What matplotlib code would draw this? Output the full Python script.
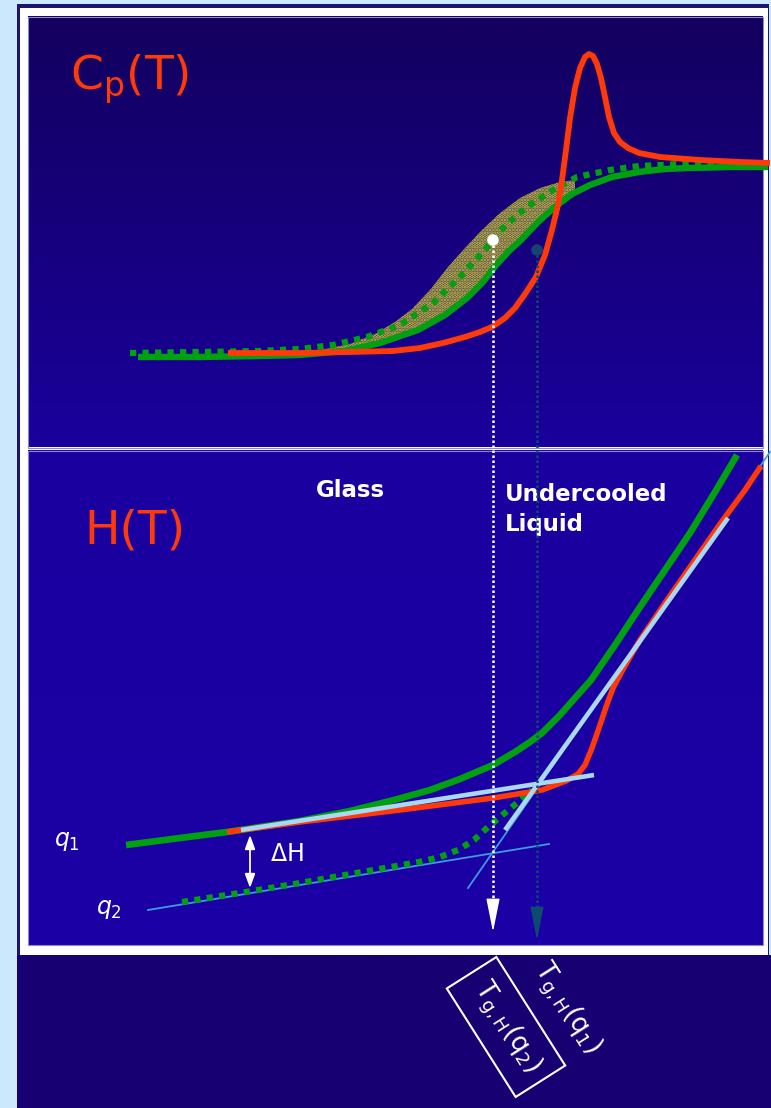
import numpy as np
import matplotlib.pyplot as plt
from matplotlib.colors import to_rgb
from matplotlib.patches import Rectangle

# ---- data (T and values in picture units) ----
# Cp(T), top panel
cp_red_T = [228, 300, 350, 393, 420, 443, 465, 480, 492, 505, 515, 525, 536, 545, 552, 558,
            562, 566, 570, 575, 580, 585, 589, 593, 597, 601, 605, 609, 614, 620, 628, 639,
            660, 700, 740, 770]
cp_red = [353, 353, 352, 351, 348, 343, 337, 332, 327, 318, 308, 294, 277, 255, 230, 205,
          180, 150, 118, 88, 68, 57, 54, 56, 64, 78, 97, 117, 133, 142, 148, 153,
          157, 160, 162, 163]

cp_q1_T = [138, 200, 260, 300, 344, 380, 418, 445, 467, 483, 497, 510, 521, 538, 556, 572,
           590, 612, 639, 665, 689, 730, 768]
cp_q1 = [357, 357, 356, 355, 351, 343, 330, 315, 298, 282, 264, 250, 240, 222, 206, 194,
         185, 177, 172, 169, 168, 167, 167]

cp_q2_T = [130, 200, 260, 300, 333, 367, 400, 433, 460, 482, 493, 500, 517, 533, 553, 577,
           610, 639, 680, 720, 768]
cp_q2 = [353, 352, 351, 349, 345, 337, 325, 303, 277, 253, 240, 231, 215, 203, 190, 177,
         170, 166, 164, 164, 165]

# speckled band: upper edge, lower edge follows the q1 curve
band_T = [320, 350, 375, 395, 412, 430, 448, 465, 480, 500, 520, 540, 560, 575]
band_top = [350, 344, 334, 322, 309, 290, 267, 248, 232, 213, 198, 188, 182, 180]
band_low_T = [575, 556, 538, 521, 510, 497, 483, 467, 445, 418, 380, 344, 320]
band_low = [190, 206, 222, 240, 250, 264, 282, 298, 315, 330, 343, 351, 353]

# H(T), bottom panel
h_q1_T = [126, 180, 227, 300, 350, 394, 430, 460, 493, 515, 530, 542, 560, 575, 591, 615,
          640, 665, 690, 715, 737]
h_q1 = [845, 838, 832, 821, 811, 800, 790, 779, 765, 752, 742, 733, 715, 698, 680, 645,
        607, 570, 533, 492, 455]

h_red_T = [227, 300, 400, 493, 542, 566, 578, 585, 592, 600, 606, 613, 621, 630, 640, 665,
           690, 720, 745, 761]
h_red = [832, 822, 810, 798, 790, 781, 774, 765, 748, 725, 707, 688, 673, 657, 640, 603,
         567, 524, 490, 466]

h_q2_T = [182, 246, 300, 345, 385, 419, 440, 458, 474, 488, 500, 512, 524, 532]
h_q2 = [902, 892, 883, 875, 868, 862, 857, 850, 840, 827, 817, 807, 797, 790]

glass1_T, glass1 = [241, 594], [830, 775]      # glass tangent q1
glass2_T, glass2 = [148, 549], [910, 844]      # glass tangent q2
liq_T, liq = [505, 728], [830, 518]            # liquid tangent (thick part)
liq_thin_T, liq_thin = [468, 770], [888, 452]  # liquid tangent (thin)

tg_T = [493, 537]        # Tg,H(q2), Tg,H(q1)
tg_cp = [240, 250]
tg_tip = [932, 940]
dH_T = 250
dH = [835, 888]

# ---- colours ----
RED = '#ff3a0a'
GREEN = '#00a010'
LBLUE = '#a9d9f2'
TBLUE = '#3d9be0'
TEAL = '#0d4a70'

plt.rcParams['hatch.linewidth'] = 1.8

fig = plt.figure(figsize=(7.71, 11.08), dpi=100)
fig.patch.set_facecolor('#cce8fd')
ax = fig.add_axes([0, 0, 1, 1])
ax.axis('off')

# frame
ax.add_patch(Rectangle((17, 4), 752, 1104, fc='#1c1470', ec='none', zorder=0))
ax.add_patch(Rectangle((19.5, 7.5), 748, 948, fc='white', ec='none', zorder=0))
ax.add_patch(Rectangle((17, 955), 754, 153, fc='#170072', ec='none', zorder=0))


def gradient(x0, x1, y0, y1, c0, c1):
    g = np.linspace(0, 1, 256)[:, None, None]
    img = np.array(to_rgb(c0)) * (1 - g) + np.array(to_rgb(c1)) * g
    ax.imshow(img, extent=[x0, x1, y1, y0], aspect='auto', zorder=0.5)
    ax.add_patch(Rectangle((x0, y0), x1 - x0, y1 - y0, fc='none', ec='#9088cc',
                           lw=0.8, zorder=0.6))


gradient(28, 762.5, 17, 447.5, '#13005e', '#1a009c')
gradient(28, 762.5, 450.5, 945, '#1a009e', '#1c00a6')
ax.set_xlim(0, 771)
ax.set_ylim(1108, 0)

# ---- Cp(T) panel ----
ax.fill(band_T + band_low_T, band_top + band_low,
        fc='#3e3a66', ec='#d8c832', hatch='.....', lw=0, zorder=1)
ax.plot(cp_q2_T, cp_q2, color=GREEN, lw=4.5, ls=(0, (1, 1)), zorder=2)
ax.plot(cp_q1_T, cp_q1, color=GREEN, lw=4.6, solid_capstyle='butt', zorder=3)
ax.plot(cp_red_T, cp_red, color=RED, lw=4.2, solid_capstyle='butt',
        solid_joinstyle='round', zorder=4)

ax.text(70, 89, r'C$_\mathregular{p}$(T)', color=RED, fontsize=34,
        ha='left', va='baseline')

# ---- H(T) panel ----
ax.plot(glass2_T, glass2, color=TBLUE, lw=1.3, zorder=2)
ax.plot(liq_thin_T, liq_thin, color=TBLUE, lw=1.3, zorder=2)
ax.plot(h_q2_T, h_q2, color=GREEN, lw=4.5, ls=(0, (1, 1)), zorder=3)
ax.plot(h_q1_T, h_q1, color=GREEN, lw=4.8, solid_capstyle='butt', zorder=3)
ax.plot(h_red_T, h_red, color=RED, lw=4.0, solid_capstyle='butt', zorder=4)
ax.plot(glass1_T, glass1, color=LBLUE, lw=3.3, solid_capstyle='butt', zorder=5)
ax.plot(liq_T, liq, color=LBLUE, lw=3.3, solid_capstyle='butt', zorder=5)

ax.text(84, 543, 'H(T)', color=RED, fontsize=34, ha='left', va='baseline')
ax.text(350, 497, 'Glass', color='white', fontsize=16.5, fontweight='bold',
        ha='center', va='baseline')
ax.text(505, 501, 'Undercooled', color='white', fontsize=16.5, fontweight='bold',
        ha='left', va='baseline')
ax.text(505, 531, 'Liquid', color='white', fontsize=16.5, fontweight='bold',
        ha='left', va='baseline')

ax.annotate('', xy=(dH_T, dH[0]), xytext=(dH_T, dH[1]),
            arrowprops=dict(arrowstyle='<|-|>,head_length=0.6,head_width=0.22',
                            color='white', lw=1.3, shrinkA=0, shrinkB=0,
                            mutation_scale=14), zorder=6)
ax.text(270, 861, r'$\Delta$H', color='white', fontsize=17, ha='left', va='baseline')
ax.text(54, 846, r'$\mathit{q}_{\mathit{1}}$', color='white', fontsize=17,
        ha='left', va='baseline')
ax.text(96, 914, r'$\mathit{q}_{\mathit{2}}$', color='white', fontsize=17,
        ha='left', va='baseline')

# ---- Tg drop lines ----
for T, c, tip, col in zip(tg_T, tg_cp, tg_tip, ['white', TEAL]):
    ax.plot([T, T], [c, tip - 28], color=col, lw=1.8, ls=(0, (1, 1)), zorder=7)
    ax.annotate('', xy=(T, tip), xytext=(T, tip - 32),
                arrowprops=dict(arrowstyle='-|>,head_length=1.5,head_width=0.3',
                                color=col, lw=1, shrinkA=0, shrinkB=0,
                                mutation_scale=14), zorder=7)
ax.scatter(tg_T, tg_cp, s=[70, 70], c=['white', '#16446e'], zorder=8,
           edgecolors='none')

# rotated labels
ax.text(506, 1027, r'T$_\mathregular{g,H}$(q$_\mathregular{2}$)', color='white',
        fontsize=19, rotation=-57.6, rotation_mode='anchor', ha='center', va='center',
        bbox=dict(boxstyle='square,pad=0.5', fc='none', ec='white', lw=1.5))
ax.text(566, 1008, r'T$_\mathregular{g,H}$(q$_\mathregular{1}$)', color='white',
        fontsize=19, rotation=-57.6, rotation_mode='anchor', ha='center', va='center')

fig.savefig('out.png', dpi=100, facecolor=fig.get_facecolor())
